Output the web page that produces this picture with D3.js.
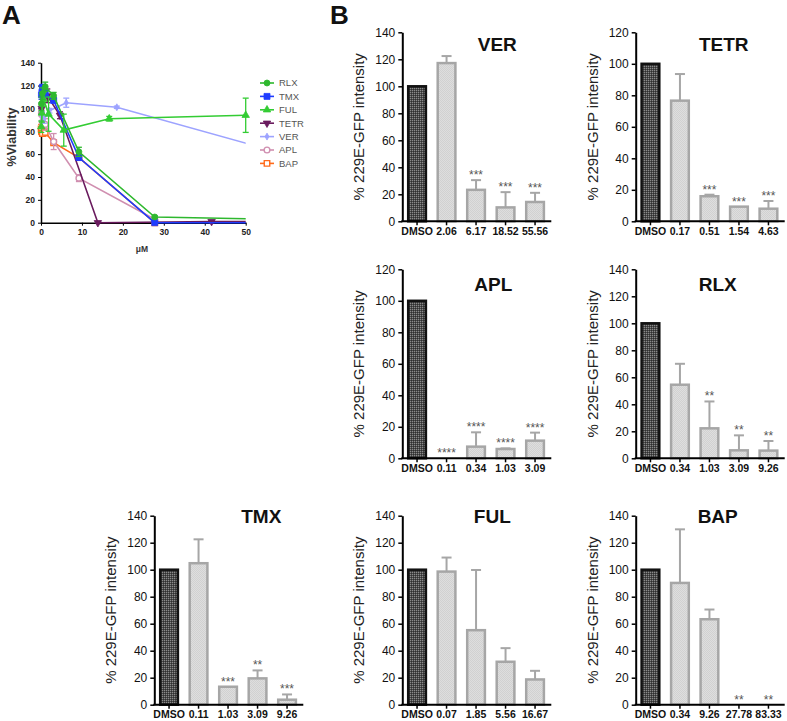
<!DOCTYPE html>
<html>
<head>
<meta charset="utf-8">
<script src="https://cdn.jsdelivr.net/npm/d3@7"></script>
<style>
  body { margin: 0; background: #fff; }
  svg { display: block; font-family: Arial, "Liberation Sans", sans-serif; }
</style>
</head>
<body>
<svg width="787" height="721"></svg>
<script>
// ---------- panel A data (viability curves) ----------
const seriesNames = ["RLX", "TMX", "FUL", "TETR", "VER", "APL", "BAP"];
const seriesColors = ["#2eb82e", "#1f3cff", "#33cc33", "#6a1b5e", "#9da3ff", "#d08fb0", "#ff6a1a"];

const rlxDose = [0.11, 0.34, 1.03, 3.09, 9.26, 27.78, 83.33];
const rlxViab = [104, 113, 119, 111, 62, 5, 1];
const rlxSd   = [6, 5, 4, 3, 4, 1, 0];

const tmxDose = [0.11, 0.34, 1.03, 3.09, 9.26, 27.78, 83.33];
const tmxViab = [112, 118, 113, 107, 57, 0, 0];
const tmxSd   = [4, 3, 3, 2, 2, 0, 0];

const fulDose = [0.07, 0.21, 0.62, 1.85, 5.56, 16.67, 50];
const fulViab = [84, 96, 108, 95, 81, 91, 94];
const fulSd   = [5, 8, 6, 15, 14, 2, 15];

const tetrDose = [0.17, 0.51, 1.54, 4.63, 13.89, 41.67, 125];
const tetrViab = [100, 112, 111, 94, 0, 1, 0];
const tetrSd   = [5, 4, 6, 3, 0, 1, 0];

const verDose = [0.23, 0.69, 2.06, 6.17, 18.52, 55.56];
const verViab = [93, 90, 98, 105, 101, 64];
const verSdA  = [4, 3, 2, 4, 1, 0];

const aplDose = [0.11, 0.34, 1.03, 3.09, 9.26, 27.78];
const aplViab = [96, 88, 86, 71, 39, 3];
const aplSdA  = [3, 4, 5, 7, 3, 0];

const bapDose = [0.04, 0.11, 0.34, 1.03, 3.09, 9.26, 27.78];
const bapViab = [82, 80, 78, 79, 70, 57, 0];
const bapSdA  = [4, 3, 2, 3, 2, 2, 0];

const xTicksA = [0, 10, 20, 30, 40, 50];
const yTicksA = [0, 20, 40, 60, 80, 100, 120, 140];

// ---------- panel B data (229E-GFP intensity) ----------
const verLabels = ["DMSO", "2.06", "6.17", "18.52", "55.56"];
const verMean   = [100, 117.2, 23.3, 10.3, 14.3];
const verSd     = [0, 5.2, 7.2, 11.3, 6.8];
const verStars  = ["", "", "***", "***", "***"];

const tetrLabels = ["DMSO", "0.17", "0.51", "1.54", "4.63"];
const tetrMean   = [100, 76.6, 15.9, 9.3, 8.0];
const tetrSdB    = [0, 16.9, 1.0, 0, 4.9];
const tetrStars  = ["", "", "***", "***", "***"];

const aplLabels = ["DMSO", "0.11", "0.34", "1.03", "3.09"];
const aplMean   = [100, 0, 7.4, 5.9, 11.2];
const aplSd     = [0, 0, 9.1, 0.4, 5.1];
const aplStars  = ["", "****", "****", "****", "****"];

const rlxLabels = ["DMSO", "0.34", "1.03", "3.09", "9.26"];
const rlxMean   = [100, 54.5, 22.2, 5.9, 5.7];
const rlxSdB    = [0, 15.5, 19.9, 11.1, 7.1];
const rlxStars  = ["", "", "**", "**", "**"];

const tmxLabels = ["DMSO", "0.11", "1.03", "3.09", "9.26"];
const tmxMean   = [100, 104.8, 13.3, 19.5, 3.7];
const tmxSdB    = [0, 17.7, 0, 5.9, 3.9];
const tmxStars  = ["", "", "***", "**", "***"];

const fulLabels = ["DMSO", "0.07", "1.85", "5.56", "16.67"];
const fulMean   = [100, 98.6, 55.2, 31.8, 18.7];
const fulSdB    = [0, 10.4, 44.6, 10.1, 6.4];
const fulStars  = ["", "", "", "", ""];

const bapLabels = ["DMSO", "0.34", "9.26", "27.78", "83.33"];
const bapMean   = [100, 90.2, 63.3, 0, 0];
const bapSdB    = [0, 39.7, 7.2, 0, 0];
const bapStars  = ["", "", "", "**", "**"];

const yTitle = "% 229E-GFP intensity";

// ---------- drawing ----------
const svg = d3.select("svg");
const defs = svg.append("defs");

// checker fills for the bars
let pd = defs.append("pattern").attr("id", "darkFill")
  .attr("width", 2).attr("height", 2).attr("patternUnits", "userSpaceOnUse");
pd.append("rect").attr("width", 2).attr("height", 2).attr("fill", "#1a1a1a");
pd.append("rect").attr("width", 1).attr("height", 1).attr("fill", "#ffffff");

let pl = defs.append("pattern").attr("id", "lightFill")
  .attr("width", 2).attr("height", 2).attr("patternUnits", "userSpaceOnUse");
pl.append("rect").attr("width", 2).attr("height", 2).attr("fill", "#ffffff");
pl.append("rect").attr("width", 1).attr("height", 1).attr("fill", "#b0b0b0");
pl.append("rect").attr("x", 1).attr("y", 1).attr("width", 1).attr("height", 1).attr("fill", "#b0b0b0");

// panel letters
svg.append("text").attr("x", 2).attr("y", 24).text("A")
  .attr("font-size", 26).attr("font-weight", "bold").attr("fill", "#111");
svg.append("text").attr("x", 330).attr("y", 24).text("B")
  .attr("font-size", 26).attr("font-weight", "bold").attr("fill", "#111");

// ===== Panel A =====
const xA = d3.scaleLinear().domain([0, 50]).range([41, 245.7]);
const yA = d3.scaleLinear().domain([0, 140]).range([222.7, 62.7]);
const gA = svg.append("g");

defs.append("clipPath").attr("id", "clipA")
  .append("rect").attr("x", xA(0)).attr("y", 0)
  .attr("width", xA(50) - xA(0)).attr("height", 230);

gA.append("g").attr("transform", `translate(0,${yA(0)})`)
  .call(d3.axisBottom(xA).tickValues(xTicksA).tickSize(3).tickSizeOuter(0))
  .call(g => g.select(".domain").attr("stroke-width", 1.5))
  .call(g => g.selectAll("text").attr("font-size", 8.5).attr("font-weight", "bold").attr("fill", "#222").attr("font-family", "Arial, sans-serif"));
gA.append("g").attr("transform", `translate(${xA(0)},0)`)
  .call(d3.axisLeft(yA).tickValues(yTicksA).tickSize(3).tickSizeOuter(0))
  .call(g => g.select(".domain").attr("stroke-width", 1.5))
  .call(g => g.selectAll("text").attr("font-size", 8.5).attr("font-weight", "bold").attr("fill", "#222").attr("font-family", "Arial, sans-serif"));

gA.append("text").attr("transform", "translate(16,137) rotate(-90)")
  .attr("text-anchor", "middle").attr("font-size", 12.5).attr("font-weight", "bold")
  .attr("fill", "#333").text("%Viability");
gA.append("text").attr("x", 142).attr("y", 252).attr("text-anchor", "middle")
  .attr("font-size", 8.5).attr("font-weight", "bold").attr("fill", "#333").text("μM");

const seriesA = [
  { dose: rlxDose, v: rlxViab, sd: rlxSd, sym: d3.symbolCircle, open: false, size: 28, rot: 0 },
  { dose: tmxDose, v: tmxViab, sd: tmxSd, sym: d3.symbolSquare, open: false, size: 36, rot: 0 },
  { dose: fulDose, v: fulViab, sd: fulSd, sym: d3.symbolTriangle, open: false, size: 24, rot: 0 },
  { dose: tetrDose, v: tetrViab, sd: tetrSd, sym: d3.symbolTriangle, open: false, size: 24, rot: 180 },
  { dose: verDose, v: verViab, sd: verSdA, sym: d3.symbolDiamond, open: false, size: 14, rot: 0 },
  { dose: aplDose, v: aplViab, sd: aplSdA, sym: d3.symbolCircle, open: true, size: 26, rot: 0 },
  { dose: bapDose, v: bapViab, sd: bapSdA, sym: d3.symbolSquare, open: true, size: 30, rot: 0 }
];
seriesA.forEach((s, i) => { s.name = seriesNames[i]; s.color = seriesColors[i]; });

const lineA = d3.line().x(d => xA(d[0])).y(d => yA(d[1]));
const drawOrder = [6, 5, 4, 3, 1, 2, 0];
drawOrder.forEach(i => {
  const s = seriesA[i];
  const pts = s.dose.map((d, k) => [d, s.v[k], s.sd[k]]);
  const shown = pts.filter(p => p[0] <= 50);
  const gs = gA.append("g");
  gs.append("path").datum(pts).attr("d", lineA)
    .attr("clip-path", "url(#clipA)")
    .attr("fill", "none").attr("stroke", s.color).attr("stroke-width", 1.6);
  // error bars
  shown.filter(p => p[2] > 0).forEach(p => {
    const cx = xA(p[0]);
    gs.append("line").attr("x1", cx).attr("x2", cx)
      .attr("y1", yA(p[1] - p[2])).attr("y2", yA(p[1] + p[2]))
      .attr("stroke", s.color).attr("stroke-width", 1.3);
    [p[1] - p[2], p[1] + p[2]].forEach(e => {
      gs.append("line").attr("x1", cx - 3).attr("x2", cx + 3)
        .attr("y1", yA(e)).attr("y2", yA(e))
        .attr("stroke", s.color).attr("stroke-width", 1.3);
    });
  });
  gs.selectAll("path.mk").data(shown).join("path").attr("class", "mk")
    .attr("d", d3.symbol().type(s.sym).size(s.size))
    .attr("transform", p => `translate(${xA(p[0])},${yA(p[1])}) rotate(${s.rot})`)
    .attr("fill", s.open ? "#fff" : s.color)
    .attr("stroke", s.color).attr("stroke-width", s.open ? 1.4 : 0.8);
});

// legend
const legA = svg.append("g");
seriesA.forEach((s, i) => {
  const ly = 83 + i * 13.4;
  legA.append("line").attr("x1", 260).attr("x2", 274).attr("y1", ly).attr("y2", ly)
    .attr("stroke", s.color).attr("stroke-width", 1.6);
  legA.append("path").attr("d", d3.symbol().type(s.sym).size(s.size))
    .attr("transform", `translate(267,${ly}) rotate(${s.rot})`)
    .attr("fill", s.open ? "#fff" : s.color)
    .attr("stroke", s.color).attr("stroke-width", s.open ? 1.4 : 0.8);
  legA.append("text").attr("x", 279).attr("y", ly).attr("dy", "0.35em")
    .attr("font-size", 9.5).attr("fill", "#555").text(s.name);
});

// ===== Panel B: bar charts =====
const colX = [154.3, 402.3, 635.7];
const rowTop = [32.3, 269.3, 515.7];
const plotH = 189;

const panelsB = [
  { title: "VER", col: 1, row: 0, max: 140, labels: verLabels, mean: verMean, sd: verSd, stars: verStars, tdx: 95, tdy: 12 },
  { title: "TETR", col: 2, row: 0, max: 120, labels: tetrLabels, mean: tetrMean, sd: tetrSdB, stars: tetrStars, tdx: 88, tdy: 12 },
  { title: "APL", col: 1, row: 1, max: 120, labels: aplLabels, mean: aplMean, sd: aplSd, stars: aplStars, tdx: 91, tdy: 15 },
  { title: "RLX", col: 2, row: 1, max: 140, labels: rlxLabels, mean: rlxMean, sd: rlxSdB, stars: rlxStars, tdx: 82, tdy: 15 },
  { title: "TMX", col: 0, row: 2, max: 140, labels: tmxLabels, mean: tmxMean, sd: tmxSdB, stars: tmxStars, tdx: 107, tdy: 1 },
  { title: "FUL", col: 1, row: 2, max: 140, labels: fulLabels, mean: fulMean, sd: fulSdB, stars: fulStars, tdx: 90, tdy: 1 },
  { title: "BAP", col: 2, row: 2, max: 140, labels: bapLabels, mean: bapMean, sd: bapSdB, stars: bapStars, tdx: 82, tdy: 1 }
];

panelsB.forEach(p => {
  const g = svg.append("g").attr("transform", `translate(${colX[p.col]},${rowTop[p.row]})`);
  const x = d3.scaleBand().domain(p.labels).range([0, 147.5]).paddingInner(0.4).paddingOuter(0.2);
  const y = d3.scaleLinear().domain([0, p.max]).range([plotH, 0]);
  const rows = p.labels.map((l, i) => ({ label: l, mean: p.mean[i], sd: p.sd[i], star: p.stars[i], dmso: i === 0 }));

  // error bars (upper only)
  rows.filter(d => d.sd > 0).forEach(d => {
    const cx = x(d.label) + x.bandwidth() / 2;
    g.append("line").attr("x1", cx).attr("x2", cx)
      .attr("y1", y(d.mean)).attr("y2", y(d.mean + d.sd))
      .attr("stroke", "#a6a6a6").attr("stroke-width", 2);
    g.append("line").attr("x1", cx - 5).attr("x2", cx + 5)
      .attr("y1", y(d.mean + d.sd)).attr("y2", y(d.mean + d.sd))
      .attr("stroke", "#a6a6a6").attr("stroke-width", 2);
  });

  // bars
  g.selectAll("rect.bar").data(rows.filter(d => d.mean > 0)).join("rect").attr("class", "bar")
    .attr("x", d => x(d.label)).attr("width", x.bandwidth())
    .attr("y", d => y(d.mean)).attr("height", d => y(0) - y(d.mean))
    .attr("fill", d => d.dmso ? "url(#darkFill)" : "url(#lightFill)")
    .attr("stroke", d => d.dmso ? "#111" : "#a6a6a6")
    .attr("stroke-width", 2.5);

  // significance stars
  g.selectAll("text.star").data(rows.filter(d => d.star)).join("text").attr("class", "star")
    .attr("x", d => x(d.label) + x.bandwidth() / 2)
    .attr("y", d => y(d.mean + d.sd) - 1)
    .attr("text-anchor", "middle").attr("font-size", 12).attr("fill", "#555")
    .text(d => d.star);

  // axes
  g.append("g")
    .call(d3.axisLeft(y).tickValues(d3.range(0, p.max + 1, 20)).tickSize(4).tickSizeOuter(0))
    .call(a => a.select(".domain").attr("stroke-width", 2))
    .call(a => a.selectAll(".tick line").attr("stroke-width", 1.5))
    .call(a => a.selectAll("text").attr("font-size", 12).attr("fill", "#111").attr("font-family", "Arial, sans-serif"));
  g.append("g").attr("transform", `translate(0,${plotH})`)
    .call(d3.axisBottom(x).tickSize(4).tickSizeOuter(0))
    .call(a => a.select(".domain").remove())
    .call(a => a.selectAll(".tick line").attr("stroke-width", 1.5))
    .call(a => a.selectAll("text").attr("y", 5).attr("dy", "0.8em").attr("font-size", 10.5)
      .attr("font-weight", "bold").attr("fill", "#111")
      .attr("font-family", "'Liberation Sans Narrow', 'Arial Narrow', Arial, sans-serif"));
  g.append("line").attr("x1", -1).attr("x2", 149).attr("y1", plotH).attr("y2", plotH)
    .attr("stroke", "#000").attr("stroke-width", 2);

  g.append("text").attr("transform", `translate(-38,${plotH / 2}) rotate(-90)`)
    .attr("text-anchor", "middle").attr("font-size", 15).attr("fill", "#222")
    .text(yTitle);

  g.append("text").attr("x", p.tdx).attr("y", p.tdy).attr("dy", "0.35em")
    .attr("text-anchor", "middle").attr("font-size", 19).attr("font-weight", "bold")
    .attr("fill", "#111").text(p.title);
});
</script>
</body>
</html>
